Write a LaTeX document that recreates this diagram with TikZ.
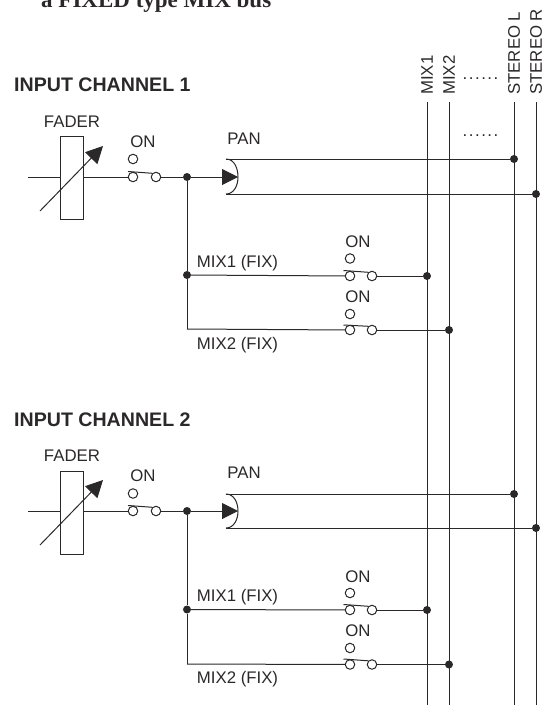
\documentclass[tikz,border=0pt]{standalone}
\usepackage{fontspec}
\setmainfont{Liberation Sans}
\newfontfamily\titlefont{Liberation Serif}
\newfontfamily\spacedfont[LetterSpace=9]{Liberation Sans}
\definecolor{inkdark}{HTML}{2B2829}
\usetikzlibrary{arrows.meta}

\tikzset{
  wire/.style={draw=inkdark, line width=1pt},
  label/.style={text=inkdark, inner sep=0pt, font=\fontsize{16.8}{18}\selectfont},
  heading/.style={text=inkdark, inner sep=0pt, anchor=west, font=\fontsize{19.6}{21}\selectfont\bfseries},
  buslabel/.style={label, rotate=90, anchor=west},
  fader/.style={wire, rectangle, inner sep=0pt, minimum width=23pt, minimum height=83pt},
  pole/.style={wire, circle, fill=white, inner sep=0pt, minimum size=9.5pt},
  junction/.style={circle, fill=inkdark, inner sep=0pt, minimum size=8pt},
  knob/.style={wire, -{Triangle[length=17pt,width=17pt]}},
  feed/.style={wire, -{Triangle[length=16pt,width=16pt]}},
}

\begin{document}
\begin{tikzpicture}[x=1pt, y=-1pt]
  \useasboundingbox (0,0) rectangle (547,705);

  \node[anchor=base west, inner sep=0pt, text=inkdark, font=\fontsize{23}{25}\selectfont\titlefont\bfseries] (title) at (41,7) {a FIXED type MIX bus};

  % buses
  \coordinate (mixatop) at (427,102);  \coordinate (mixabot) at (427,705);
  \coordinate (mixbtop) at (449,102);  \coordinate (mixbbot) at (449,705);
  \coordinate (stltop) at (514,102);   \coordinate (stlbot) at (514,705);
  \coordinate (strtop) at (536,102);   \coordinate (strbot) at (536,705);
  \draw[wire] (mixatop) -- (mixabot);
  \draw[wire] (mixbtop) -- (mixbbot);
  \draw[wire] (stltop) -- (stlbot);
  \draw[wire] (strtop) -- (strbot);
  \node[buslabel] (mixalabel) at (427,95) {MIX1};
  \node[buslabel] (mixblabel) at (449,95) {MIX2};
  \node[buslabel] (stllabel) at (514,95) {STEREO L};
  \node[buslabel] (strlabel) at (536,95) {STEREO R};
  \node[label, font=\fontsize{16.8}{18}\selectfont\spacedfont, anchor=base] (dotstop) at (480.5,79) {......};
  \node[label, font=\fontsize{16.8}{18}\selectfont\spacedfont, anchor=base] (dotsmid) at (480.5,136) {......};

  % channel 1
  \node[heading] (headone) at (14,85) {INPUT CHANNEL 1};
  \node[label] (faderonelabel) at (72,122) {FADER};
  \node[fader] (faderone) at (71.5,178) {};
  \coordinate (inone) at (28,177);
  \draw[wire] (inone) -- (inone -| faderone.west);
  \coordinate (knobonefrom) at (40,211);
  \coordinate (knoboneto) at (103,146);
  \draw[knob] (knobonefrom) -- (knoboneto);

  \node[label] (ononelabel) at (143,142) {ON};
  \node[pole] (onetop) at (133,159) {};
  \node[pole] (onea) at (133,177) {};
  \node[pole] (oneb) at (156,177) {};
  \coordinate (levone) at (128,171.5);
  \draw[wire] (levone) -- (oneb.north west);
  \draw[wire] (inone -| faderone.east) -- (onea);
  \node[junction] (splitone) at (187,177) {};
  \draw[wire] (oneb) -- (splitone);

  \coordinate (panone) at (238,177);
  \coordinate (panoneup) at (226,159);
  \coordinate (panonedown) at (226,194);
  \node[label] (panonelabel) at (244,139) {PAN};
  \draw[feed] (splitone) -- (panone);
  \draw[wire] (panoneup) to[out=0,in=90] (panone) to[out=-90,in=0] (panonedown);
  \node[junction] (stlone) at (514,159) {};
  \node[junction] (strone) at (536,194) {};
  \draw[wire] (panoneup) -- (stlone);
  \draw[wire] (panonedown) -- (strone);

  \node[junction] (sendone) at (187,275) {};
  \coordinate (cornerone) at (187,329);
  \draw[wire] (splitone) -- (sendone) -- (cornerone);
  \node[label] (mixaonelabel) at (237.5,263) {MIX1 (FIX)};
  \node[label] (mixbonelabel) at (237.5,345) {MIX2 (FIX)};

  \node[label] (onmixaone) at (358,242) {ON};
  \node[pole] (mixaonetop) at (350,258.5) {};
  \node[pole] (mixaonea) at (350,276) {};
  \node[pole] (mixaoneb) at (372,276) {};
  \coordinate (levmixaone) at (343.5,270.5);
  \draw[wire] (levmixaone) -- (mixaoneb.north west);
  \node[junction] (mixaone) at (427,276) {};
  \draw[wire] (sendone) -- (mixaonea);
  \draw[wire] (mixaoneb) -- (mixaone);

  \node[label] (onmixbone) at (358,297) {ON};
  \node[pole] (mixbonetop) at (350,314) {};
  \node[pole] (mixbonea) at (350,330) {};
  \node[pole] (mixboneb) at (372,330) {};
  \coordinate (levmixbone) at (343.5,325);
  \draw[wire] (levmixbone) -- (mixboneb.north west);
  \node[junction] (mixbone) at (449,330) {};
  \draw[wire] (cornerone) -- (mixbonea);
  \draw[wire] (mixboneb) -- (mixbone);

  % channel 2
  \node[heading] (headtwo) at (14,420) {INPUT CHANNEL 2};
  \node[label] (fadertwolabel) at (72,456) {FADER};
  \node[fader] (fadertwo) at (71.5,512.5) {};
  \coordinate (intwo) at (28,511);
  \draw[wire] (intwo) -- (intwo -| fadertwo.west);
  \coordinate (knobtwofrom) at (40,545);
  \coordinate (knobtwoto) at (103,480);
  \draw[knob] (knobtwofrom) -- (knobtwoto);

  \node[label] (ontwolabel) at (143,476) {ON};
  \node[pole] (twotop) at (133,493.5) {};
  \node[pole] (twoa) at (133,511) {};
  \node[pole] (twob) at (156,511) {};
  \coordinate (levtwo) at (128,505.5);
  \draw[wire] (levtwo) -- (twob.north west);
  \draw[wire] (intwo -| fadertwo.east) -- (twoa);
  \node[junction] (splittwo) at (187,511) {};
  \draw[wire] (twob) -- (splittwo);

  \coordinate (pantwo) at (238,511);
  \coordinate (pantwoup) at (226,494);
  \coordinate (pantwodown) at (226,528);
  \node[label] (pantwolabel) at (244,473) {PAN};
  \draw[feed] (splittwo) -- (pantwo);
  \draw[wire] (pantwoup) to[out=0,in=90] (pantwo) to[out=-90,in=0] (pantwodown);
  \node[junction] (stltwo) at (514,494) {};
  \node[junction] (strtwo) at (536,528) {};
  \draw[wire] (pantwoup) -- (stltwo);
  \draw[wire] (pantwodown) -- (strtwo);

  \node[junction] (sendtwo) at (187,609.5) {};
  \coordinate (cornertwo) at (187,664);
  \draw[wire] (splittwo) -- (sendtwo) -- (cornertwo);
  \node[label] (mixatwolabel) at (237.5,597) {MIX1 (FIX)};
  \node[label] (mixbtwolabel) at (237.5,679) {MIX2 (FIX)};

  \node[label] (onmixatwo) at (358,576.5) {ON};
  \node[pole] (mixatwotop) at (350,593) {};
  \node[pole] (mixatwoa) at (350,610) {};
  \node[pole] (mixatwob) at (372,610) {};
  \coordinate (levmixatwo) at (343.5,604.5);
  \draw[wire] (levmixatwo) -- (mixatwob.north west);
  \node[junction] (mixatwo) at (427,610) {};
  \draw[wire] (sendtwo) -- (mixatwoa);
  \draw[wire] (mixatwob) -- (mixatwo);

  \node[label] (onmixbtwo) at (358,631) {ON};
  \node[pole] (mixbtwotop) at (350,648) {};
  \node[pole] (mixbtwoa) at (350,664.5) {};
  \node[pole] (mixbtwob) at (372,664.5) {};
  \coordinate (levmixbtwo) at (343.5,659);
  \draw[wire] (levmixbtwo) -- (mixbtwob.north west);
  \node[junction] (mixbtwo) at (449,664.5) {};
  \draw[wire] (cornertwo) -- (mixbtwoa);
  \draw[wire] (mixbtwob) -- (mixbtwo);
\end{tikzpicture}
\end{document}
